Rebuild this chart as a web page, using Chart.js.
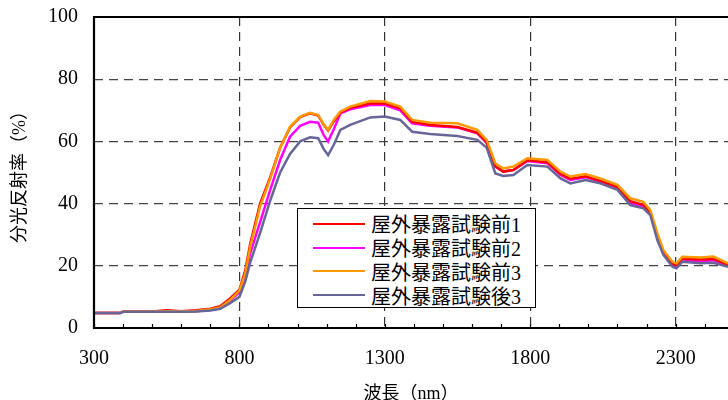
<!DOCTYPE html>
<html>
<head>
<meta charset="utf-8">
<script src="https://cdn.jsdelivr.net/npm/chart.js@4/dist/chart.umd.min.js"></script>
<style>
  body { margin: 0; background: #fff; }
  #wrap { position: relative; width: 728px; height: 400px; }
  #legend {
    position: absolute; left: 297px; top: 208px; width: 239px; height: 100px;
    border: 1px solid #000; background: #fff; box-sizing: border-box;
    padding-top: 3px;
    font-family: "Liberation Serif", "Noto Sans CJK JP", serif; font-size: 20px; color: #000;
  }
  .row { display: flex; align-items: center; height: 23.8px; }
  .swatch { width: 52px; height: 0; border-top: 2.5px solid; margin-left: 15px; margin-right: 6px; }
</style>
</head>
<body>
<div id="wrap">
  <canvas id="chart"></canvas>
  <div id="legend"></div>
</div>
<script>
// ===== data =====
const WAVELENGTHS = [300, 390, 400, 500, 550, 600, 650, 700, 734, 768,
  800, 820, 837, 871, 906, 940, 974, 1009, 1043, 1071,
  1090, 1105, 1125, 1147, 1181, 1250, 1300, 1353, 1394, 1456,
  1549, 1618, 1650, 1680, 1707, 1742, 1790, 1859, 1904, 1938,
  1990, 2041, 2100, 2144, 2189, 2213, 2237, 2258, 2289, 2303,
  2323, 2385, 2430, 2480];

const BEFORE_1 = [4.8, 4.8, 5.3, 5.3, 5.7, 5.4, 5.7, 6.2, 7, 9.5,
  12.3, 18.5, 27, 40, 48.5, 58, 64.5, 67.8, 69, 68.3,
  65.3, 63.5, 66.5, 69.3, 70.8, 72.2, 72.2, 70.6, 66.3, 65.3,
  64.6, 62.8, 59.8, 52, 50.3, 50.8, 53.9, 53.3, 49.5, 48,
  48.8, 47.3, 45.3, 40.8, 39.6, 37.2, 29.7, 24.2, 20.6, 20.2,
  22.3, 22, 22.2, 20.3];

const BEFORE_2 = [4.8, 4.8, 5.2, 5.2, 5.3, 5.3, 5.4, 5.8, 6.4, 8.8,
  11.5, 16.5, 24, 34, 44.4, 54, 61.5, 65, 66.3, 66,
  62, 60, 64, 69, 70.3, 71.7, 71.7, 70, 65.8, 65,
  64.5, 62.6, 59.5, 51.9, 50.3, 50.8, 53.7, 53, 49.2, 47.6,
  48.5, 47, 44.9, 40.1, 39, 36.8, 29.5, 24, 20.3, 19.8,
  22.1, 21.3, 21.8, 20];

const BEFORE_3 = [4.8, 4.8, 5.3, 5.3, 5.4, 5.4, 5.5, 6.0, 6.6, 9.0,
  12, 17.5, 26, 39, 48, 58, 64.7, 68, 69.2, 68.5,
  65.5, 63.7, 67, 69.6, 71.2, 73, 72.8, 71.2, 66.9, 66,
  65.8, 63.7, 60.5, 53, 51.3, 51.9, 54.6, 54, 50.3, 48.7,
  49.5, 48.1, 46, 41.7, 40.6, 37.9, 30.5, 25, 21.3, 20.8,
  22.9, 22.7, 23, 20.8];

const AFTER_3 = [4.8, 4.8, 5.2, 5.2, 5.2, 5.2, 5.3, 5.6, 6.2, 8,
  10, 14.9, 21, 30.5, 41, 50, 56, 60, 61.3, 61,
  57.5, 55.6, 59, 63.7, 65.3, 67.7, 68, 66.9, 63.1, 62.4,
  61.7, 60.5, 58, 49.7, 48.9, 49.2, 52.4, 51.9, 48.1, 46.5,
  47.6, 46.5, 44.4, 39.5, 38.5, 36.3, 28.3, 23.5, 19.7, 19.2,
  21.3, 20.8, 21, 19.7];

const SERIES_LABELS = ['屋外暴露試験前1', '屋外暴露試験前2', '屋外暴露試験前3', '屋外暴露試験後3'];
const SERIES_COLORS = ['#ff0000', '#ff00ff', '#ff9900', '#666699'];
const SERIES_VALUES = [BEFORE_1, BEFORE_2, BEFORE_3, AFTER_3];

const X_TICKS = [300, 800, 1300, 1800, 2300];
const X_MINOR_STEP = 100;
const Y_TICKS = [0, 20, 40, 60, 80, 100];

const FONT = '"Liberation Serif", "Noto Sans CJK JP", serif';
// draw order: orange over red over magenta, blue on top
const DRAW_ORDER = [3, 4, 2, 1];

const datasets = SERIES_LABELS.map((label, i) => ({
  label,
  data: WAVELENGTHS.map((x, j) => ({ x, y: SERIES_VALUES[i][j] })),
  borderColor: SERIES_COLORS[i],
  borderWidth: 2.5,
  pointRadius: 0,
  tension: 0,
  fill: false,
  order: DRAW_ORDER[i]
}));

// frame + inward minor ticks on the x axis
const framePlugin = {
  id: 'frame',
  afterDatasetsDraw(chart) {
    const { ctx, chartArea: a, scales: { x } } = chart;
    ctx.save();
    ctx.strokeStyle = '#000';
    ctx.lineWidth = 1.2;
    for (let v = x.min; v <= x.max; v += X_MINOR_STEP) {
      const px = Math.round(x.getPixelForValue(v)) + 0.5;
      ctx.beginPath();
      ctx.moveTo(px, a.bottom);
      ctx.lineTo(px, a.bottom - 4);
      ctx.stroke();
    }
    ctx.lineWidth = 2.2;
    ctx.beginPath();
    ctx.moveTo(a.right + 2, a.top);
    ctx.lineTo(a.left, a.top);
    ctx.lineTo(a.left, a.bottom);
    ctx.lineTo(a.right + 2, a.bottom);
    ctx.stroke();
    ctx.restore();
  }
};

new Chart(document.getElementById('chart'), {
  type: 'line',
  data: { datasets },
  plugins: [framePlugin],
  options: {
    responsive: true,
    maintainAspectRatio: false,
    animation: false,
    devicePixelRatio: 1,
    layout: { padding: { top: 17, right: 0, bottom: 0, left: 0 } },
    plugins: { legend: { display: false }, tooltip: { enabled: false } },
    scales: {
      x: {
        type: 'linear',
        min: 300,
        max: 2480,
        afterBuildTicks: s => { s.ticks = X_TICKS.map(value => ({ value })); },
        afterFit: s => { s.height = 72; s.paddingLeft = 0; s.paddingRight = 0; },
        ticks: {
          color: '#000', font: { family: FONT, size: 20 }, padding: 19, maxRotation: 0, autoSkip: false,
          callback: v => String(v)
        },
        grid: {
          drawTicks: false,
          color: ctx => (ctx.tick && ctx.tick.value === 300 ? 'rgba(0,0,0,0)' : '#333'),
          lineWidth: 1.2
        },
        border: { display: false, dash: [9, 6] },
        title: {
          display: true, text: '波長（nm）', color: '#000',
          font: { family: FONT, size: 18 }, padding: { top: 0, bottom: -5 }
        }
      },
      y: {
        min: 0,
        max: 100,
        afterBuildTicks: s => { s.ticks = Y_TICKS.map(value => ({ value })); },
        afterFit: s => { s.width = 94; s.paddingTop = 0; s.paddingBottom = 0; },
        ticks: { color: '#000', font: { family: FONT, size: 20 }, padding: 16, callback: v => String(v) },
        grid: {
          drawTicks: false,
          color: ctx => (ctx.tick && (ctx.tick.value === 0 || ctx.tick.value === 100) ? 'rgba(0,0,0,0)' : '#444'),
          lineWidth: 1.2
        },
        border: { display: false, dash: [9, 6] },
        title: {
          display: true, text: '分光反射率（%）', color: '#000',
          font: { family: FONT, size: 18 }, padding: { top: 9, bottom: 0 }
        }
      }
    }
  }
});

// legend box inside the plot, as in the reference
const legend = document.getElementById('legend');
SERIES_LABELS.forEach((label, i) => {
  const row = document.createElement('div');
  row.className = 'row';
  const sw = document.createElement('span');
  sw.className = 'swatch';
  sw.style.borderTopColor = SERIES_COLORS[i];
  const tx = document.createElement('span');
  tx.textContent = label;
  row.appendChild(sw);
  row.appendChild(tx);
  legend.appendChild(row);
});
</script>
</body>
</html>
